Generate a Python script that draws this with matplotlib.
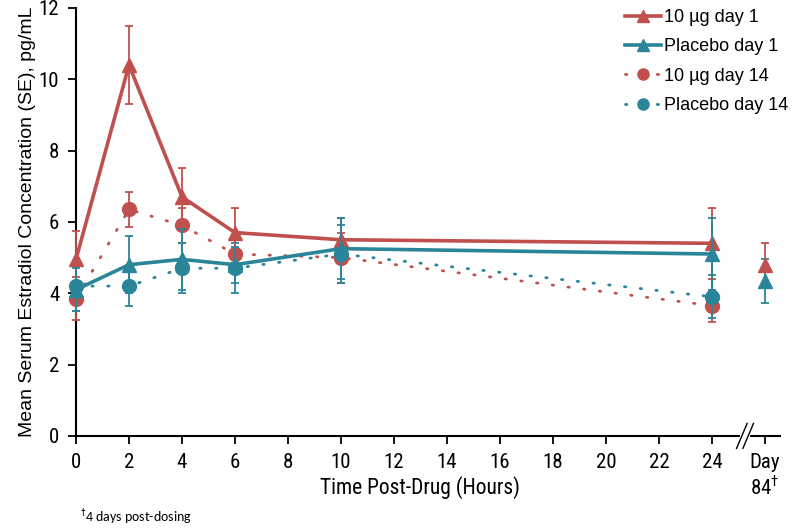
import matplotlib
matplotlib.use("Agg")
import matplotlib.pyplot as plt

# Data
hours = [0, 2, 4, 6, 10, 24]
ug10_d1 = [4.95, 10.4, 6.7, 5.7, 5.5, 5.4]
ug10_d1_se = [0.8, 1.1, 0.8, 0.7, 0.6, 1.0]
pl_d1 = [4.1, 4.8, 4.95, 4.8, 5.25, 5.1]
pl_d1_se = [0.6, 0.8, 0.85, 0.5, 0.85, 1.0]
ug10_d14 = [3.85, 6.35, 5.9, 5.1, 5.0, 3.65]
ug10_d14_se = [0.6, 0.5, 0.5, 0.45, 0.7, 0.45]
pl_d14 = [4.2, 4.2, 4.7, 4.7, 5.1, 3.9]
pl_d14_se = [0.7, 0.55, 0.7, 0.7, 0.8, 0.6]
day84_pos = 26
ug10_day84 = 4.8
ug10_day84_se = 0.6
pl_day84 = 4.35
pl_day84_se = 0.62

xtick_pos = list(range(0, 25, 2)) + [day84_pos]
xtick_labels = [str(v) for v in range(0, 25, 2)] + ["Day\n84$^{\u2020}$"]

RED = "#C0504D"
TEAL = "#2B8599"

narrow = ["Roboto Condensed", "DejaVu Sans"]
plt.rcParams["font.family"] = ["Liberation Sans", "DejaVu Sans"]
plt.rcParams["mathtext.fontset"] = "custom"
plt.rcParams["mathtext.rm"] = "Roboto Condensed"

fig = plt.figure(figsize=(8, 5.29), dpi=100)
ax = fig.add_axes([0.095, 0.176, 0.88, 0.809])

def series(y, se, color, marker, ls, label, z):
    ax.errorbar(hours, y, yerr=se, fmt="none", ecolor=color, elinewidth=1.3,
                capsize=3, capthick=1.3, clip_on=False, zorder=z)
    if ls == "solid":
        ax.plot(hours, y, color=color, lw=2.6, marker=marker, ms=10,
                clip_on=False, zorder=z + 1, label=label)
    else:
        ax.plot(hours, y, color=color, lw=2.0, ls=(0, (0.5, 5.2)),
                dash_capstyle="round", marker=marker, ms=10,
                clip_on=False, zorder=z + 1, label=label)

series(ug10_d1, ug10_d1_se, RED, "^", "solid", "10 \u00b5g day 1", 5)
series(pl_d1, pl_d1_se, TEAL, "^", "solid", "Placebo day 1", 6)
series(ug10_d14, ug10_d14_se, RED, "o", "dot", "10 \u00b5g day 14", 3)
series(pl_d14, pl_d14_se, TEAL, "o", "dot", "Placebo day 14", 4)

ax.errorbar([day84_pos], [ug10_day84], yerr=[ug10_day84_se], fmt="^", color=RED,
            ms=10, elinewidth=1.3, capsize=3, capthick=1.3, clip_on=False)
ax.errorbar([day84_pos], [pl_day84], yerr=[pl_day84_se], fmt="^", color=TEAL,
            ms=10, elinewidth=1.3, capsize=3, capthick=1.3, clip_on=False)

ax.set_xlim(0, 26.57)
ax.set_ylim(0, 12)
ax.set_yticks(range(0, 13, 2))
ax.set_xticks(xtick_pos)
ax.set_xticklabels(xtick_labels, fontsize=15, family=narrow, linespacing=1.15,
                   va="top")
for lbl in ax.get_yticklabels():
    lbl.set_fontfamily(narrow)
    lbl.set_fontsize(15)
ax.tick_params(direction="out", length=6, width=1.3, color="black", pad=6)
for s in ["top", "right"]:
    ax.spines[s].set_visible(False)
for s in ["left", "bottom"]:
    ax.spines[s].set_linewidth(1.5)

# axis break marks
ax.plot([25.13, 25.37], [0, 0], color="white", lw=3, clip_on=False, zorder=9)
for dx in (-0.12, 0.12):
    ax.plot([25.05 + dx, 25.45 + dx], [-0.35, 0.35], color="black", lw=1,
            clip_on=False, zorder=10)

ax.set_ylabel("Mean Serum Estradiol Concentration (SE), pg/mL", fontsize=14,
              labelpad=2)
fig.text(0.525, 0.078, "Time Post-Drug (Hours)", ha="center", va="center",
         fontsize=15.5, family=narrow)
fig.text(0.1, 0.025, "$^{\u2020}$4 days post-dosing", ha="left", va="center",
         fontsize=10, family=["Carlito", "DejaVu Sans"])

leg = ax.legend(loc="upper right", bbox_to_anchor=(1.035, 1.035), frameon=False,
                fontsize=13, handlelength=2.0, handletextpad=0.15,
                labelspacing=0.68, markerscale=0.8)

fig.savefig("out.png", dpi=100)
